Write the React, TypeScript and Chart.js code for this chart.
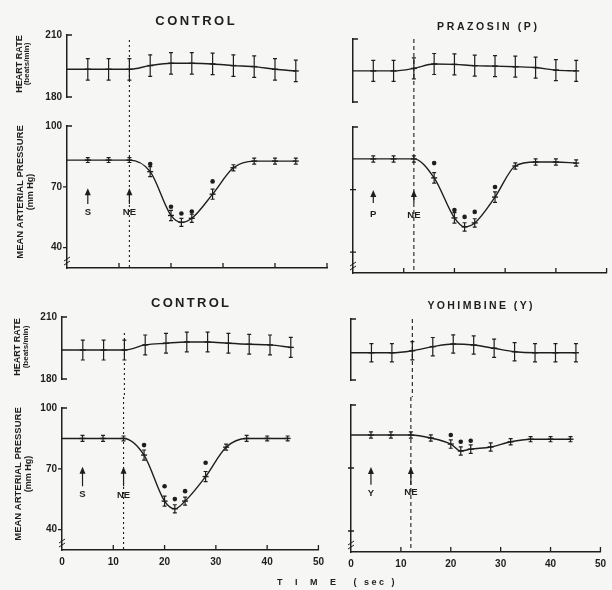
import React, { useEffect, useRef } from 'react';
import { Chart, registerables } from 'chart.js';

Chart.register(...registerables);

const INK = '#1e1e1e';
const BG = '#f6f6f4';
const SANS = '"Liberation Sans", Arial, sans-serif';

// ---- axes ----
const TIME_TICKS = [0, 10, 20, 30, 40, 50];
const HR_TICKS = [180, 210];
const MAP_TICKS = [40, 70, 100];
const NE_TIME = 12;

// ---- time points (sec) ----
const T_HR = [0, 4, 8, 12, 16, 20, 24, 28, 32, 36, 40, 44];
const T_MAP = [0, 4, 8, 12, 16, 20, 22, 24, 28, 32, 36, 40, 44];

// ---- heart rate (beats/min) ----
const HR_CONTROL_A = [193.4, 193.4, 193.4, 193.4, 195.2, 196.3, 196.3, 196.0, 195.2, 194.7, 193.4, 192.6];
const HR_CONTROL_A_SE = [0, 5.2, 5.2, 5.2, 5.2, 5.2, 5.2, 5.2, 5.2, 5.2, 5.2, 5.2];
const HR_PRAZOSIN = [194.8, 194.8, 194.8, 196.0, 198.1, 197.9, 197.3, 197.1, 196.8, 196.4, 195.2, 194.8];
const HR_PRAZOSIN_SE = [0, 5.0, 5.0, 5.0, 5.0, 5.0, 5.0, 5.0, 5.0, 5.0, 5.0, 5.0];
const HR_CONTROL_B = [194.0, 194.0, 194.0, 194.0, 196.5, 197.3, 197.9, 197.9, 197.3, 196.8, 196.5, 195.3];
const HR_CONTROL_B_SE = [0, 4.8, 4.8, 4.8, 4.8, 4.8, 4.8, 4.8, 4.8, 4.8, 4.8, 4.8];
const HR_YOHIMBINE = [193.4, 193.4, 193.4, 194.4, 196.4, 197.7, 197.2, 195.6, 193.9, 193.4, 193.4, 193.4];
const HR_YOHIMBINE_SE = [0, 4.5, 4.5, 4.5, 4.5, 4.5, 4.5, 4.5, 4.5, 4.5, 4.5, 4.5];

// ---- mean arterial pressure (mm Hg) ----
const MAP_CONTROL_A = [83.2, 83.2, 83.2, 83.2, 77.5, 55.9, 52.5, 54.5, 66.4, 79.4, 82.7, 82.7, 82.7];
const MAP_CONTROL_A_SE = [0, 1.2, 1.2, 1.2, 2.5, 2.5, 2.0, 2.0, 2.5, 1.5, 1.5, 1.5, 1.5];
const MAP_PRAZOSIN = [84.7, 84.7, 84.7, 84.7, 75.6, 56.4, 52.1, 54.0, 66.4, 81.3, 83.2, 83.2, 82.7];
const MAP_PRAZOSIN_SE = [0, 1.5, 1.5, 1.5, 2.5, 2.5, 2.0, 2.0, 2.5, 1.5, 1.5, 1.5, 1.5];
const MAP_CONTROL_B = [85.0, 85.0, 85.0, 85.0, 76.8, 54.1, 50.3, 54.1, 66.2, 80.7, 85.0, 85.0, 85.0];
const MAP_CONTROL_B_SE = [0, 1.5, 1.5, 1.2, 2.5, 2.5, 2.0, 2.0, 2.5, 1.5, 1.5, 1.2, 1.2];
const MAP_YOHIMBINE = [85.7, 85.7, 85.7, 85.7, 84.3, 81.4, 78.1, 79.0, 80.0, 82.5, 83.7, 83.7, 83.7];
const MAP_YOHIMBINE_SE = [0, 1.5, 1.5, 1.5, 1.5, 2.0, 2.0, 2.0, 2.0, 1.5, 1.2, 1.2, 1.2];

// ---- significance markers (filled dots) ----
const SIG_T = [16, 20, 22, 24, 28];
const SIG_CONTROL_A = [81.3, 60.2, 56.9, 57.8, 72.7];
const SIG_PRAZOSIN = [82.7, 60.2, 56.9, 59.3, 71.2];
const SIG_CONTROL_B = [81.7, 61.4, 55.1, 59.0, 73.0];
const SIG_T_Y = [20, 22, 24];
const SIG_YOHIMBINE = [85.7, 82.5, 83.0];

type Arrow = { t: number; from: number; to: number; label: string; ly: number };
type Spec = {
  kind: 'hr' | 'map';
  area: { l: number; t: number; r: number; b: number };
  yw: number; padTop: number; padBottom: number; padRight: number; xh: number;
  x: number[]; y: number[]; se: number[];
  sigX?: number[]; sigY?: number[];
  yLabels: boolean; xLabels: boolean;
  title?: { text: string; x: number; y: number; size: number; spacing: number };
  yTitles?: { text: string; x: number; size: number }[];
  yTitleY?: number;
  arrows?: Arrow[];
  dash: number[];
  dashFromY?: number;
  extraText?: { text: string; x: number; y: number; size: number; spacing: number };
  tickStyle: 'left' | 'right';
};

function makeDecor(spec: Spec, left: number, top: number) {
  return {
    id: 'decor',
    afterDatasetsDraw(chart: any) {
      const ctx = chart.ctx as CanvasRenderingContext2D;
      const ca = chart.chartArea;
      const xs = chart.scales.x;
      const ys = chart.scales.y;
      ctx.save();
      ctx.strokeStyle = INK;
      ctx.fillStyle = INK;
      // error bars
      chart.data.datasets.forEach((ds: any, i: number) => {
        if (!ds.errs) return;
        const meta = chart.getDatasetMeta(i);
        meta.data.forEach((pt: any, j: number) => {
          const e = ds.errs[j];
          if (!e) return;
          const v = ds.data[j].y;
          const y1 = ys.getPixelForValue(v + e);
          const y2 = ys.getPixelForValue(v - e);
          ctx.lineWidth = 1.2;
          ctx.beginPath();
          ctx.moveTo(pt.x, y1); ctx.lineTo(pt.x, y2);
          ctx.moveTo(pt.x - 2, y1); ctx.lineTo(pt.x + 2, y1);
          ctx.moveTo(pt.x - 2, y2); ctx.lineTo(pt.x + 2, y2);
          ctx.stroke();
        });
      });
      // NE dashed line
      const nx = xs.getPixelForValue(NE_TIME);
      ctx.lineWidth = 1.1;
      ctx.setLineDash(spec.dash);
      ctx.beginPath();
      if (spec.kind === 'hr') {
        ctx.moveTo(nx, (spec.dashFromY ?? spec.area.t) - top);
        ctx.lineTo(nx, chart.height);
      } else {
        ctx.moveTo(nx, 0);
        ctx.lineTo(nx, ca.bottom);
      }
      ctx.stroke();
      ctx.setLineDash([]);
      // y ticks
      ctx.lineWidth = 1.3;
      ctx.beginPath();
      const yt = spec.kind === 'hr' ? HR_TICKS : MAP_TICKS;
      yt.forEach((v) => {
        const py = ys.getPixelForValue(v);
        const isEnd = spec.kind === 'hr' || v === 100;
        if (isEnd) { ctx.moveTo(ca.left, py); ctx.lineTo(ca.left + 5, py); }
        else if (spec.tickStyle === 'left') { ctx.moveTo(ca.left - 4, py); ctx.lineTo(ca.left, py); }
        else { ctx.moveTo(ca.left - 3, py); ctx.lineTo(ca.left + 3, py); }
      });
      if (spec.kind === 'map') {
        TIME_TICKS.forEach((v) => {
          if (v === 0) return;
          const px = xs.getPixelForValue(v);
          ctx.moveTo(px, ca.bottom); ctx.lineTo(px, ca.bottom - 5);
        });
      }
      ctx.stroke();
      // axis break
      if (spec.kind === 'map') {
        ctx.lineWidth = 1;
        ctx.beginPath();
        for (const dy of [9, 5]) {
          const by = ca.bottom - dy;
          ctx.moveTo(ca.left - 3, by + 2); ctx.lineTo(ca.left + 3, by - 2);
        }
        ctx.stroke();
      }
      // arrows
      (spec.arrows || []).forEach((a) => {
        const ax = xs.getPixelForValue(a.t);
        const y0 = ys.getPixelForValue(a.from);
        const y1 = ys.getPixelForValue(a.to);
        ctx.lineWidth = 1.2;
        ctx.beginPath();
        ctx.moveTo(ax, y0); ctx.lineTo(ax, y1 + 5);
        ctx.stroke();
        ctx.beginPath();
        ctx.moveTo(ax, y1); ctx.lineTo(ax - 3, y1 + 7); ctx.lineTo(ax + 3, y1 + 7);
        ctx.closePath(); ctx.fill();
        ctx.font = `bold 9.5px ${SANS}`;
        ctx.textAlign = 'center'; ctx.textBaseline = 'middle';
        ctx.fillText(a.label, ax, ys.getPixelForValue(a.ly));
      });
      // panel title
      if (spec.title) {
        const t = spec.title;
        ctx.font = `bold ${t.size}px ${SANS}`;
        (ctx as any).letterSpacing = `${t.spacing}px`;
        ctx.textAlign = 'center'; ctx.textBaseline = 'middle';
        ctx.fillText(t.text, t.x - left + t.spacing / 2, t.y - top);
        (ctx as any).letterSpacing = '0px';
      }
      // y axis titles
      if (spec.yTitles) {
        spec.yTitles.forEach((yt) => {
          ctx.save();
          ctx.translate(yt.x - left, (spec.yTitleY as number) - top);
          ctx.rotate(-Math.PI / 2);
          ctx.font = `bold ${yt.size}px ${SANS}`;
          ctx.textAlign = 'center'; ctx.textBaseline = 'middle';
          ctx.fillText(yt.text, 0, 0);
          ctx.restore();
        });
      }
      if (spec.extraText) {
        const e = spec.extraText;
        ctx.font = `bold ${e.size}px ${SANS}`;
        (ctx as any).letterSpacing = `${e.spacing}px`;
        ctx.textAlign = 'left'; ctx.textBaseline = 'middle';
        ctx.fillText(e.text, e.x - left, e.y - top);
        (ctx as any).letterSpacing = '0px';
      }
      ctx.restore();
    },
  };
}

function Panel({ spec }: { spec: Spec }) {
  const ref = useRef<HTMLCanvasElement>(null);
  const { area, yw, padTop, padBottom, padRight, xh } = spec;
  const left = area.l - yw;
  const top = area.t - padTop;
  const width = area.r - area.l + yw + padRight;
  const height = area.b - area.t + padTop + xh + padBottom;

  useEffect(() => {
    const isMap = spec.kind === 'map';
    const datasets: any[] = [
      {
        data: spec.x.map((t, i) => ({ x: t, y: spec.y[i] })),
        errs: spec.se,
        borderColor: INK,
        borderWidth: 1.4,
        pointStyle: 'line',
        pointRadius: spec.x.map((t) => (t === 0 ? 0 : 3)),
        pointBorderWidth: 1.4,
        pointBorderColor: INK,
        cubicInterpolationMode: 'monotone',
        fill: false,
        clip: false,
      },
    ];
    if (spec.sigX && spec.sigY) {
      datasets.push({
        data: spec.sigX.map((t, i) => ({ x: t, y: (spec.sigY as number[])[i] })),
        showLine: false,
        pointStyle: 'circle',
        pointRadius: 2.3,
        pointBackgroundColor: INK,
        pointBorderWidth: 0,
        clip: false,
      });
    }
    const chart = new Chart(ref.current as HTMLCanvasElement, {
      type: 'line',
      data: { datasets },
      plugins: [makeDecor(spec, left, top)],
      options: {
        responsive: false,
        animation: false,
        events: [],
        layout: { padding: { top: padTop, bottom: padBottom, right: padRight, left: 0 } },
        plugins: { legend: { display: false }, tooltip: { enabled: false }, title: { display: false } },
        scales: {
          x: {
            type: 'linear',
            display: isMap,
            min: 0,
            max: 50,
            afterBuildTicks: (s: any) => { s.ticks = TIME_TICKS.map((v) => ({ value: v })); },
            afterFit: (s: any) => { s.height = xh; },
            grid: { display: false, drawTicks: false },
            border: { display: true, color: INK, width: 1.5 },
            ticks: {
              display: spec.xLabels,
              padding: 6,
              maxRotation: 0,
              color: INK,
              font: { family: SANS, size: 10, weight: 'bold' },
            },
          },
          y: {
            type: 'linear',
            min: isMap ? 30 : 180,
            max: isMap ? 100 : 210,
            afterBuildTicks: (s: any) => {
              s.ticks = (isMap ? MAP_TICKS : HR_TICKS).map((v) => ({ value: v }));
            },
            afterFit: (s: any) => { s.width = yw; },
            grid: { display: false, drawTicks: false },
            border: { display: true, color: INK, width: 1.5 },
            ticks: {
              display: spec.yLabels,
              padding: 5,
              color: INK,
              font: { family: SANS, size: 10, weight: 'bold' },
            },
          },
        },
      } as any,
    });
    return () => chart.destroy();
  }, []);

  return (
    <canvas
      ref={ref}
      width={width}
      height={height}
      style={{ position: 'absolute', left, top, width, height }}
    />
  );
}

const LEFT_DASH = [2, 3];
const RIGHT_DASH = [4, 3];

const SPECS: Spec[] = [
  {
    kind: 'hr', area: { l: 67, t: 35, r: 327, b: 97 }, yw: 63, padTop: 28, padBottom: 18, padRight: 8, xh: 0,
    x: T_HR, y: HR_CONTROL_A, se: HR_CONTROL_A_SE, yLabels: true, xLabels: false,
    title: { text: 'CONTROL', x: 195, y: 21, size: 13, spacing: 2.5 },
    yTitles: [{ text: 'HEART RATE', x: 19.5, size: 9 }, { text: '(beats/min)', x: 27, size: 8 }], yTitleY: 64,
    dash: LEFT_DASH, dashFromY: 40, tickStyle: 'left',
  },
  {
    kind: 'map', area: { l: 67, t: 123, r: 327, b: 269 }, yw: 63, padTop: 8, padBottom: 0, padRight: 8, xh: 10,
    x: T_MAP, y: MAP_CONTROL_A, se: MAP_CONTROL_A_SE, sigX: SIG_T, sigY: SIG_CONTROL_A, yLabels: true, xLabels: false,
    yTitles: [{ text: 'MEAN ARTERIAL PRESSURE', x: 20, size: 9.5 }, { text: '(mm Hg)', x: 31, size: 9 }], yTitleY: 192,
    arrows: [
      { t: 4, from: 61.6, to: 69.3, label: 'S', ly: 57.6 },
      { t: 12, from: 61.6, to: 69.3, label: 'NE', ly: 57.6 },
    ],
    dash: LEFT_DASH, tickStyle: 'left',
  },
  {
    kind: 'hr', area: { l: 353, t: 39, r: 610, b: 102 }, yw: 30, padTop: 28, padBottom: 17, padRight: 2, xh: 0,
    x: T_HR, y: HR_PRAZOSIN, se: HR_PRAZOSIN_SE, yLabels: false, xLabels: false,
    title: { text: 'PRAZOSIN (P)', x: 487, y: 27, size: 10.5, spacing: 2.6 },
    dash: RIGHT_DASH, dashFromY: 39, tickStyle: 'right',
  },
  {
    kind: 'map', area: { l: 353, t: 127, r: 610, b: 273 }, yw: 30, padTop: 8, padBottom: 0, padRight: 2, xh: 10,
    x: T_MAP, y: MAP_PRAZOSIN, se: MAP_PRAZOSIN_SE, sigX: SIG_T, sigY: SIG_PRAZOSIN, yLabels: false, xLabels: false,
    arrows: [
      { t: 4, from: 63.6, to: 69.8, label: 'P', ly: 58.3 },
      { t: 12, from: 63.6, to: 69.8, label: 'NE', ly: 57.5 },
    ],
    dash: RIGHT_DASH, tickStyle: 'right',
  },
  {
    kind: 'hr', area: { l: 62, t: 317, r: 322, b: 379 }, yw: 58, padTop: 28, padBottom: 18, padRight: 8, xh: 0,
    x: T_HR, y: HR_CONTROL_B, se: HR_CONTROL_B_SE, yLabels: true, xLabels: false,
    title: { text: 'CONTROL', x: 190, y: 303, size: 13, spacing: 2.3 },
    yTitles: [{ text: 'HEART RATE', x: 18, size: 9 }, { text: '(beats/min)', x: 25.5, size: 8 }], yTitleY: 347,
    dash: LEFT_DASH, dashFromY: 333, tickStyle: 'left',
  },
  {
    kind: 'map', area: { l: 62, t: 405, r: 322, b: 550 }, yw: 58, padTop: 8, padBottom: 20, padRight: 8, xh: 20,
    x: T_MAP, y: MAP_CONTROL_B, se: MAP_CONTROL_B_SE, sigX: SIG_T, sigY: SIG_CONTROL_B, yLabels: true, xLabels: true,
    yTitles: [{ text: 'MEAN ARTERIAL PRESSURE', x: 18, size: 9.5 }, { text: '(mm Hg)', x: 29, size: 9 }], yTitleY: 474,
    arrows: [
      { t: 4, from: 61.4, to: 71.0, label: 'S', ly: 57.5 },
      { t: 12, from: 61.4, to: 71.0, label: 'NE', ly: 56.8 },
    ],
    dash: LEFT_DASH, tickStyle: 'left',
  },
  {
    kind: 'hr', area: { l: 351, t: 319, r: 607, b: 380 }, yw: 30, padTop: 28, padBottom: 17, padRight: 5, xh: 0,
    x: T_HR, y: HR_YOHIMBINE, se: HR_YOHIMBINE_SE, yLabels: false, xLabels: false,
    title: { text: 'YOHIMBINE (Y)', x: 480, y: 306, size: 10.5, spacing: 2.4 },
    dash: RIGHT_DASH, dashFromY: 319, tickStyle: 'right',
  },
  {
    kind: 'map', area: { l: 351, t: 405, r: 606, b: 552 }, yw: 80, padTop: 8, padBottom: 18, padRight: 6, xh: 20,
    x: T_MAP, y: MAP_YOHIMBINE, se: MAP_YOHIMBINE_SE, sigX: SIG_T_Y, sigY: SIG_YOHIMBINE, yLabels: false, xLabels: true,
    arrows: [
      { t: 4, from: 62.0, to: 70.5, label: 'Y', ly: 58.1 },
      { t: 12, from: 62.0, to: 70.5, label: 'NE', ly: 58.4 },
    ],
    dash: RIGHT_DASH, tickStyle: 'right',
    extraText: { text: 'T  I  M  E   ( sec )', x: 277, y: 583, size: 9, spacing: 2.5 },
  },
];

export default function App() {
  return (
    <div
      style={{
        position: 'fixed', left: 0, top: 0, width: 612, height: 590,
        background: BG, overflow: 'hidden',
      }}
    >
      {SPECS.map((s, i) => (
        <Panel key={i} spec={s} />
      ))}
    </div>
  );
}
